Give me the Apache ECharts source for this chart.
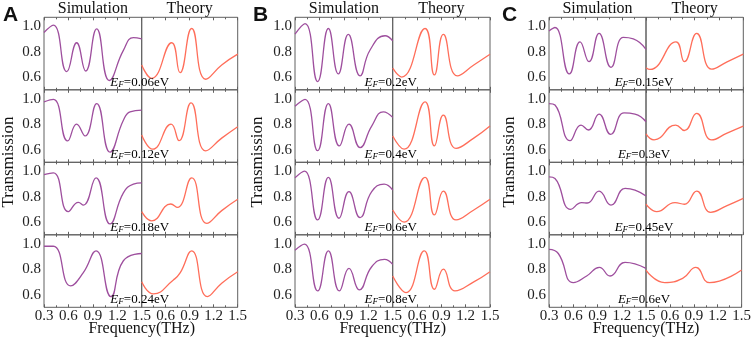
<!DOCTYPE html>
<html>
<head>
<meta charset="utf-8">
<script src="https://cdn.jsdelivr.net/npm/echarts@6/dist/echarts.min.js"></script>
<style>
  html, body { margin: 0; padding: 0; background: #fff; }
  #chart { width: 754px; height: 346px; }
</style>
</head>
<body>
<div id="chart"></div>
<script>
// frequency axis (THz) and transmission axis
const freqTicks = [0.3, 0.6, 0.9, 1.2, 1.5];
const transTicks = [0.6, 0.8, 1.0];

// Fermi levels per row
const fermiA = ['0.06', '0.12', '0.18', '0.24'];
const fermiB = ['0.2', '0.4', '0.6', '0.8'];
const fermiC = ['0.15', '0.3', '0.45', '0.6'];

// [frequency, transmission], one list per row
const simA = [
  [[0.3,0.95],[0.415,1.008],[0.579,0.643],[0.701,0.87],[0.812,0.648],[0.947,0.979],[1.103,0.573],[1.275,0.81],[1.398,0.91],[1.5,0.9]],
  [[0.3,0.975],[0.415,0.994],[0.591,0.668],[0.701,0.8],[0.804,0.707],[0.947,0.962],[1.111,0.58],[1.275,0.83],[1.357,0.897],[1.5,0.91]],
  [[0.3,0.974],[0.415,0.987],[0.599,0.682],[0.722,0.755],[0.783,0.734],[0.939,0.948],[1.111,0.586],[1.275,0.83],[1.398,0.898],[1.5,0.909]],
  [[0.3,0.98],[0.415,0.98],[0.628,0.668],[0.783,0.772],[0.939,0.944],[1.123,0.584],[1.275,0.866],[1.5,0.923]]
];
const theoA = [
  [[0.3,0.695],[0.425,0.59],[0.675,0.87],[0.779,0.635],[0.925,0.982],[1.1,0.583],[1.3,0.695],[1.5,0.78]],
  [[0.3,0.715],[0.438,0.603],[0.667,0.8],[0.767,0.67],[0.917,0.967],[1.1,0.59],[1.3,0.69],[1.5,0.78]],
  [[0.3,0.682],[0.425,0.61],[0.663,0.742],[0.746,0.716],[0.925,0.948],[1.113,0.59],[1.3,0.69],[1.5,0.779]],
  [[0.3,0.7],[0.446,0.605],[0.696,0.715],[0.78,0.77],[0.925,0.944],[1.121,0.584],[1.3,0.69],[1.5,0.78]]
];
const simB = [
  [[0.3,0.938],[0.423,1.02],[0.578,0.565],[0.71,0.982],[0.832,0.625],[0.955,0.935],[1.099,0.61],[1.222,0.813],[1.406,0.925],[1.5,0.885]],
  [[0.3,0.94],[0.423,0.994],[0.578,0.592],[0.71,0.962],[0.845,0.629],[0.963,0.8],[1.099,0.616],[1.242,0.785],[1.385,0.897],[1.5,0.853]],
  [[0.3,0.948],[0.415,1.0],[0.578,0.617],[0.71,0.951],[0.841,0.63],[0.963,0.839],[1.099,0.635],[1.242,0.839],[1.394,0.898],[1.5,0.852]],
  [[0.3,0.949],[0.415,0.996],[0.578,0.629],[0.71,0.944],[0.845,0.629],[0.963,0.806],[1.09,0.637],[1.242,0.819],[1.398,0.877],[1.5,0.837]]
];
const theoB = [
  [[0.3,0.67],[0.411,0.6],[0.699,0.982],[0.814,0.617],[0.925,0.935],[1.097,0.61],[1.3,0.695],[1.5,0.779]],
  [[0.3,0.707],[0.44,0.603],[0.699,0.975],[0.814,0.629],[0.925,0.871],[1.081,0.61],[1.3,0.69],[1.5,0.785]],
  [[0.3,0.695],[0.44,0.6],[0.699,0.951],[0.814,0.656],[0.925,0.844],[1.081,0.617],[1.3,0.695],[1.5,0.779]],
  [[0.3,0.746],[0.464,0.616],[0.69,0.944],[0.814,0.642],[0.925,0.8],[1.068,0.629],[1.3,0.7],[1.5,0.78]]
];
const simC = [
  [[0.3,0.963],[0.374,0.99],[0.552,0.625],[0.684,0.877],[0.795,0.721],[0.919,0.943],[1.067,0.677],[1.22,0.912],[1.343,0.9],[1.5,0.818]],
  [[0.3,0.962],[0.374,0.95],[0.56,0.67],[0.696,0.793],[0.787,0.754],[0.919,0.879],[1.063,0.72],[1.228,0.889],[1.364,0.879],[1.5,0.819]],
  [[0.3,0.956],[0.374,0.943],[0.568,0.7],[0.704,0.753],[0.774,0.75],[0.919,0.844],[1.067,0.734],[1.241,0.865],[1.364,0.852],[1.5,0.805]],
  [[0.3,0.955],[0.415,0.923],[0.601,0.694],[0.766,0.746],[0.923,0.814],[1.055,0.746],[1.241,0.853],[1.5,0.806]]
];
const theoC = [
  [[0.3,0.674],[0.349,0.66],[0.67,0.877],[0.773,0.721],[0.925,0.943],[1.11,0.662],[1.3,0.72],[1.5,0.781]],
  [[0.3,0.723],[0.399,0.676],[0.666,0.793],[0.773,0.75],[0.925,0.884],[1.11,0.676],[1.3,0.73],[1.5,0.785]],
  [[0.3,0.742],[0.432,0.682],[0.658,0.753],[0.773,0.74],[0.925,0.844],[1.097,0.677],[1.3,0.73],[1.5,0.787]],
  [[0.3,0.793],[0.534,0.694],[0.76,0.728],[0.925,0.814],[1.097,0.694],[1.5,0.793]]
];

const SERIF = '"Liberation Serif", "DejaVu Serif", serif';
const SIM_COLOR = '#9e4f9e';
const THEO_COLOR = '#ff6e5a';
const FRAME = '#606060';

// layout of the three panels (left edge, divider, right edge)
const panels = [
  { tag: 'A', x0: 44, mid: 141.7, x1: 237.7, tagX: 3, ylabX: 9, sim: simA, theo: theoA, fermi: fermiA },
  { tag: 'B', x0: 295, mid: 392.7, x1: 490, tagX: 253, ylabX: 258, sim: simB, theo: theoB, fermi: fermiB },
  { tag: 'C', x0: 549, mid: 646, x1: 743.3, tagX: 502, ylabX: 510, sim: simC, theo: theoC, fermi: fermiC }
];
const TOP = 17.3, ROW_H = 72.5, ROWS = 4;

const grid = [], xAxis = [], yAxis = [], series = [], graphic = [];

panels.forEach(p => {
  const cols = [
    { left: p.x0, width: p.mid - p.x0, data: p.sim, color: SIM_COLOR },
    { left: p.mid, width: p.x1 - p.mid, data: p.theo, color: THEO_COLOR }
  ];
  for (let r = 0; r < ROWS; r++) {
    cols.forEach((c, ci) => {
      const gi = grid.length;
      grid.push({
        left: c.left, top: TOP + r * ROW_H, width: c.width, height: ROW_H,
        show: true, borderColor: FRAME, borderWidth: 1, backgroundColor: 'transparent'
      });
      const bottomRow = r === ROWS - 1;
      xAxis.push({
        type: 'value', gridIndex: gi, min: 0.3, max: 1.5, interval: 0.3,
        axisLine: { show: false },
        axisTick: { show: true, inside: true, length: 3, lineStyle: { color: FRAME } },
        minorTick: { show: true, splitNumber: 2, length: 2, lineStyle: { color: FRAME } },
        splitLine: { show: false },
        axisLabel: {
          show: bottomRow, showMinLabel: ci === 0, margin: 1,
          customValues: freqTicks,
          fontFamily: SERIF, fontSize: 15, color: '#222',
          formatter: v => v.toFixed(1)
        }
      });
      // top edge ticks
      xAxis.push({
        type: 'value', gridIndex: gi, position: 'top', min: 0.3, max: 1.5, interval: 0.3,
        axisLine: { show: false },
        axisTick: { show: true, inside: true, length: 3, lineStyle: { color: FRAME } },
        minorTick: { show: true, splitNumber: 2, length: 2, lineStyle: { color: FRAME } },
        splitLine: { show: false },
        axisLabel: { show: false }
      });
      yAxis.push({
        type: 'value', gridIndex: gi, min: 0.5, max: 1.07,
        axisLine: { show: false },
        axisTick: { show: false },
        splitLine: { show: false },
        axisLabel: {
          show: ci === 0, margin: 3, customValues: transTicks,
          fontFamily: SERIF, fontSize: 15, color: '#222',
          formatter: v => v.toFixed(1)
        }
      });
      series.push({
        type: 'line', xAxisIndex: xAxis.length - 2, yAxisIndex: gi,
        data: c.data[r], smooth: 0.5, showSymbol: false, silent: true,
        lineStyle: { color: c.color, width: 1.3 }
      });
    });
    // Fermi level label at the bottom of the row, centred on the divider
    graphic.push({
      type: 'text', x: p.mid - 2, y: TOP + (r + 1) * ROW_H - 1, z: 100,
      style: {
        text: '{e|E}{f|F}{n|=' + p.fermi[r] + 'eV}',
        align: 'center', verticalAlign: 'bottom',
        textAlign: 'center', textVerticalAlign: 'bottom',
        rich: {
          e: { fontFamily: SERIF, fontStyle: 'italic', fontSize: 13, color: '#222', lineHeight: 14, verticalAlign: 'bottom' },
          f: { fontFamily: SERIF, fontStyle: 'italic', fontSize: 9, color: '#222', lineHeight: 9, verticalAlign: 'bottom', padding: [3, 0, 0, 0] },
          n: { fontFamily: SERIF, fontSize: 13, color: '#222', lineHeight: 14, verticalAlign: 'bottom' }
        }
      }
    });
  }
  // panel letter, column titles, axis names
  graphic.push({
    type: 'text', x: p.tagX, y: 15,
    style: { text: p.tag, font: 'bold 21px "Liberation Sans", Arial, sans-serif', fill: '#111',
      align: 'left', verticalAlign: 'middle', textAlign: 'left', textVerticalAlign: 'middle' }
  });
  graphic.push({
    type: 'text', x: (p.x0 + p.mid) / 2, y: 9,
    style: { text: 'Simulation', font: '16px ' + SERIF, fill: '#111',
      align: 'center', verticalAlign: 'middle', textAlign: 'center', textVerticalAlign: 'middle' }
  });
  graphic.push({
    type: 'text', x: (p.mid + p.x1) / 2, y: 9,
    style: { text: 'Theory', font: '16px ' + SERIF, fill: '#111',
      align: 'center', verticalAlign: 'middle', textAlign: 'center', textVerticalAlign: 'middle' }
  });
  graphic.push({
    type: 'text', x: p.mid, y: 329,
    style: { text: 'Frequency(THz)', font: '16px ' + SERIF, fill: '#111',
      align: 'center', verticalAlign: 'middle', textAlign: 'center', textVerticalAlign: 'middle' }
  });
  graphic.push({
    type: 'text', x: p.ylabX, y: 162, rotation: Math.PI / 2,
    style: { text: 'Transmission', font: '17px ' + SERIF, fill: '#111',
      align: 'center', verticalAlign: 'middle', textAlign: 'center', textVerticalAlign: 'middle' }
  });
});

const chart = echarts.init(document.getElementById('chart'), null, { renderer: 'canvas' });
chart.setOption({
  animation: false,
  backgroundColor: '#fff',
  grid, xAxis, yAxis, series, graphic
});
</script>
</body>
</html>
